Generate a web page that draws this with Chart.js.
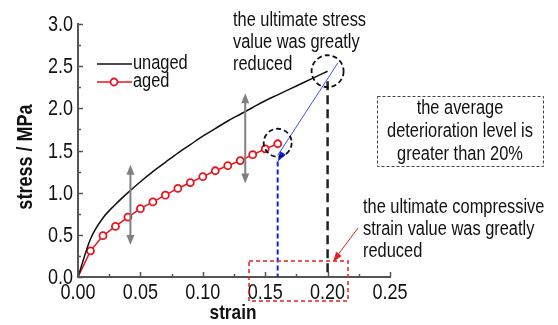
<!DOCTYPE html>
<html>
<head>
<meta charset="utf-8">
<script src="https://cdn.jsdelivr.net/npm/chart.js@4.4.0/dist/chart.umd.min.js"></script>
<style>
    body { margin: 0; background: #fff; }
</style>
</head>
<body>
<canvas id="chart" width="558" height="325"></canvas>
<script>
// 应力-应变数据
const unagedStrain = [0, 0.01, 0.02, 0.03, 0.04, 0.05, 0.06, 0.07, 0.08, 0.09, 0.10,
    0.11, 0.12, 0.13, 0.14, 0.15, 0.16, 0.17, 0.18, 0.19, 0.20];
const unagedStress = [0, 0.45, 0.70, 0.86, 1.00, 1.13, 1.25, 1.36, 1.47, 1.57, 1.67,
    1.76, 1.85, 1.93, 2.01, 2.09, 2.16, 2.23, 2.30, 2.37, 2.44];
const agedStrain = [0, 0.01, 0.02, 0.03, 0.04, 0.05, 0.06, 0.07, 0.08, 0.09, 0.10,
    0.11, 0.12, 0.13, 0.14, 0.15, 0.16];
const agedStress = [0, 0.31, 0.49, 0.60, 0.71, 0.81, 0.89, 0.97, 1.05, 1.12, 1.19,
    1.26, 1.32, 1.38, 1.45, 1.52, 1.58];

const xTicks = [0, 0.05, 0.10, 0.15, 0.20, 0.25];
const yTicks = [0, 0.5, 1.0, 1.5, 2.0, 2.5, 3.0];

// 没有窄体字，用水平压缩代替
const FONT = '"Liberation Sans", Arial, sans-serif';
const NARROW = 0.82;

function toPoints(xs, ys) {
    return xs.map((x, i) => ({ x: x, y: ys[i] }));
}

function narrowText(ctx, text, x, y, size, align, baseline, bold) {
    ctx.save();
    ctx.font = (bold ? 'bold ' : '') + size + 'px ' + FONT;
    ctx.fillStyle = '#111';
    ctx.textAlign = align || 'left';
    ctx.textBaseline = baseline || 'alphabetic';
    ctx.translate(x, y);
    ctx.scale(NARROW, 1);
    ctx.fillText(text, 0, 0);
    ctx.restore();
}

// 画箭头头部
function arrowHead(ctx, x1, y1, x2, y2, len, width, color) {
    const a = Math.atan2(y2 - y1, x2 - x1);
    const bx = x2 - len * Math.cos(a);
    const by = y2 - len * Math.sin(a);
    ctx.save();
    ctx.fillStyle = color;
    ctx.beginPath();
    ctx.moveTo(x2, y2);
    ctx.lineTo(bx + width / 2 * Math.sin(a), by - width / 2 * Math.cos(a));
    ctx.lineTo(bx - width / 2 * Math.sin(a), by + width / 2 * Math.cos(a));
    ctx.closePath();
    ctx.fill();
    ctx.restore();
}

function line(ctx, x1, y1, x2, y2, color, width, dash) {
    ctx.save();
    ctx.strokeStyle = color;
    ctx.lineWidth = width;
    ctx.setLineDash(dash || []);
    ctx.beginPath();
    ctx.moveTo(x1, y1);
    ctx.lineTo(x2, y2);
    ctx.stroke();
    ctx.restore();
}

function dashedCircle(ctx, x, y, r) {
    ctx.save();
    ctx.strokeStyle = '#111';
    ctx.lineWidth = 1.8;
    ctx.setLineDash([5, 3]);
    ctx.beginPath();
    ctx.arc(x, y, r, 0, Math.PI * 2);
    ctx.stroke();
    ctx.restore();
}

function textLines(ctx, lines, x, y0, step, align) {
    lines.forEach((t, i) => narrowText(ctx, t, x, y0 + i * step, 20, align));
}

// 坐标轴内侧刻度、刻度值、图例和标注
const annotations = {
    id: 'annotations',
    afterDraw(chart) {
        const ctx = chart.ctx;
        const xs = chart.scales.x, ys = chart.scales.y;
        const px = v => xs.getPixelForValue(v);
        const py = v => ys.getPixelForValue(v);
        const area = chart.chartArea;

        // 内侧刻度（含次刻度）
        ctx.save();
        ctx.strokeStyle = '#555';
        ctx.lineWidth = 1.5;
        for (let v = 0; v <= 0.2501; v += 0.025) {
            const x = Math.round(px(v)) + 0.5;
            const len = Math.abs(v / 0.05 - Math.round(v / 0.05)) < 1e-6 ? 5 : 3;
            ctx.beginPath();
            ctx.moveTo(x, area.bottom);
            ctx.lineTo(x, area.bottom - len);
            ctx.stroke();
        }
        for (let v = 0; v <= 3.001; v += 0.25) {
            const y = Math.round(py(v)) + 0.5;
            const len = Math.abs(v / 0.5 - Math.round(v / 0.5)) < 1e-6 ? 5 : 3;
            ctx.beginPath();
            ctx.moveTo(area.left, y);
            ctx.lineTo(area.left + len, y);
            ctx.stroke();
        }
        ctx.restore();

        // 刻度值
        xs.ticks.forEach(t => narrowText(ctx, t.value.toFixed(2), px(t.value), area.bottom + 5, 22, 'center', 'top'));
        ys.ticks.forEach(t => narrowText(ctx, t.value.toFixed(1), area.left - 5, py(t.value) + 1, 22, 'right', 'middle'));

        // 轴标题
        narrowText(ctx, 'strain', 233, 313, 21, 'center', 'middle', true);
        ctx.save();
        ctx.translate(26, 157);
        ctx.rotate(-Math.PI / 2);
        narrowText(ctx, 'stress / MPa', 0, 0, 22, 'center', 'middle', true);
        ctx.restore();

        // 图例
        line(ctx, 97, 64, 132, 64, '#111', 1.5);
        line(ctx, 97, 82, 132, 82, '#e8141c', 1.5);
        ctx.save();
        ctx.strokeStyle = '#e8141c';
        ctx.fillStyle = '#fff';
        ctx.lineWidth = 1.8;
        ctx.beginPath();
        ctx.arc(114, 82, 3.5, 0, Math.PI * 2);
        ctx.fill();
        ctx.stroke();
        ctx.restore();
        textLines(ctx, ['unaged', 'aged'], 133, 69, 18);

        // 灰色双向箭头：老化前后差值
        [[0.042, 0.38, 1.33], [0.134, 1.11, 2.18]].forEach(a => {
            const x = px(a[0]), yb = py(a[1]), yt = py(a[2]);
            line(ctx, x, yb - 8, x, yt + 8, '#808080', 2);
            arrowHead(ctx, x, yb, x, yt, 10, 8, '#808080');
            arrowHead(ctx, x, yt, x, yb, 10, 8, '#808080');
        });

        const uEnd = unagedStrain.length - 1, aEnd = agedStrain.length - 1;
        const ux = px(unagedStrain[uEnd]), uy = py(unagedStress[uEnd]);
        const ax = px(agedStrain[aEnd]), ay = py(agedStress[aEnd]);

        // 极限应变竖线
        line(ctx, ux, uy + 10, ux, area.bottom, '#222', 2.5, [9, 5]);
        line(ctx, ax, py(1.37), ax, area.bottom, '#1a1aff', 2, [5, 3]);

        // 极限应力变化方向
        const bx1 = px(0.2083), by1 = py(2.54);
        line(ctx, bx1, by1, ax, py(1.37) - 6, '#3a55e0', 1);
        arrowHead(ctx, bx1, by1, ax, py(1.37), 10, 7, '#1a1aff');

        dashedCircle(ctx, ux, uy, 16);
        dashedCircle(ctx, ax, ay - 1, 14);

        // 文字说明
        textLines(ctx, ['the ultimate stress', 'value was greatly', 'reduced'], 233, 26, 22);
        textLines(ctx, ['the average', 'deterioration level is', 'greater than 20%'], 460, 114, 23, 'center');
        textLines(ctx, ['the ultimate compressive', 'strain value was greatly', 'reduced'], 363, 213, 22);

        ctx.save();
        ctx.strokeStyle = '#444';
        ctx.lineWidth = 1;
        ctx.setLineDash([3, 2]);
        ctx.strokeRect(377.5, 96.5, 166, 70);
        ctx.strokeStyle = '#e52020';
        ctx.lineWidth = 1.5;
        ctx.setLineDash([4, 3]);
        ctx.strokeRect(249, 261, 99, 40);
        ctx.restore();

        line(ctx, 358, 228, 337, 256, '#e52020', 1);
        arrowHead(ctx, 358, 228, 333, 262, 10, 7, '#e52020');
    }
};

new Chart(document.getElementById('chart').getContext('2d'), {
    type: 'line',
    data: {
        datasets: [{
            label: 'unaged',
            data: toPoints(unagedStrain, unagedStress),
            borderColor: '#111',
            borderWidth: 1.5,
            pointRadius: 0,
            cubicInterpolationMode: 'monotone',
            fill: false
        }, {
            label: 'aged',
            data: toPoints(agedStrain, agedStress),
            borderColor: '#e8141c',
            borderWidth: 1.5,
            pointRadius: agedStrain.map((s, i) => i === 0 ? 0 : 3.5),
            pointBorderWidth: 1.8,
            pointBackgroundColor: '#fff',
            pointBorderColor: '#e8141c',
            fill: false
        }]
    },
    options: {
        responsive: false,
        animation: false,
        layout: { padding: { left: 0, right: 168, top: 24, bottom: 0 } },
        plugins: {
            legend: { display: false },
            tooltip: { enabled: false }
        },
        scales: {
            x: {
                type: 'linear',
                min: 0,
                max: 0.25,
                afterBuildTicks: scale => { scale.ticks = xTicks.map(v => ({ value: v })); },
                afterFit: scale => {
                    scale.height = 48;
                    scale.paddingLeft = 0;
                    scale.paddingRight = 0;
                },
                grid: { display: false, drawTicks: false },
                border: { display: true, color: '#555', width: 2 },
                ticks: { display: false }
            },
            y: {
                min: 0,
                max: 3,
                afterBuildTicks: scale => { scale.ticks = yTicks.map(v => ({ value: v })); },
                afterFit: scale => {
                    scale.width = 78;
                    scale.paddingTop = 0;
                    scale.paddingBottom = 0;
                },
                grid: { display: false, drawTicks: false },
                border: { display: true, color: '#555', width: 2 },
                ticks: { display: false }
            }
        }
    },
    plugins: [annotations]
});
</script>
</body>
</html>
